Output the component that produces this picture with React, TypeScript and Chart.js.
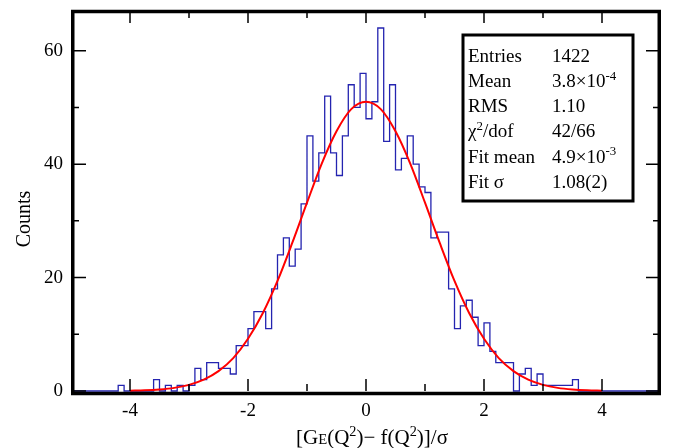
import { useEffect, useRef } from 'react';
import { Chart, registerables } from 'chart.js';

Chart.register(...registerables);

// Histogram: 100 bins of width 0.1 from -5 to 5
const binLow = -5;
const binHigh = 5;
const binWidth = 0.1;
const binCounts = [
  0, 0, 0, 0, 0, 0, 0, 0, 1, 0,
  0, 0, 0, 0, 2, 0, 1, 0, 1, 0,
  1, 4, 2, 5, 5, 4, 4, 3, 8, 8,
  11, 14, 14, 11, 18, 24, 27, 22, 25, 33,
  45, 37, 42, 52, 42, 38, 45, 54, 50, 56,
  48, 51, 64, 44, 54, 39, 41, 45, 40, 36,
  35, 27, 28, 28, 18, 11, 15, 16, 13, 8,
  12, 7, 5, 5, 5, 0, 3, 4, 1, 3,
  1, 1, 1, 1, 1, 2, 0, 0, 0, 0,
  0, 0, 0, 0, 0, 0, 0, 0, 0, 0,
];

// Gaussian fit curve
const fitX = [
  -4, -3.75, -3.5, -3.25, -3, -2.75, -2.5, -2.25, -2, -1.75, -1.5, -1.25, -1, -0.75, -0.5, -0.25,
  0, 0.25, 0.5, 0.75, 1, 1.25, 1.5, 1.75, 2, 2.25, 2.5, 2.75, 3, 3.25, 3.5, 3.75, 4,
];
const fitY = [
  0.05, 0.12, 0.27, 0.55, 1.08, 2.0, 3.5, 5.8, 9.2, 13.7, 19.4, 26.1, 33.2, 40.1, 45.8, 49.7,
  51.0, 49.7, 45.8, 40.1, 33.2, 26.1, 19.4, 13.7, 9.2, 5.8, 3.5, 2.0, 1.08, 0.55, 0.27, 0.12, 0.05,
];

const xTickLabels = [-4, -2, 0, 2, 4];
const xMinorTicks = [-3, -1, 1, 3];
const yTickLabels = [0, 20, 40, 60];
const yMinorTicks = [10, 30, 50];
const yMax = 67;

const statsLabels = ['Entries', 'Mean', 'RMS', 'χ²/dof', 'Fit mean', 'Fit σ'];
const statsValues = ['1422', '3.8×10^-4', '1.10', '42/66', '4.9×10^-3', '1.08(2)'];

const SERIF = '"Liberation Serif", "Times New Roman", serif';

type Seg = { t: string; size: number; dy: number };

function drawRich(ctx: CanvasRenderingContext2D, x: number, y: number, segs: Seg[], align: 'left' | 'center') {
  let total = 0;
  for (const s of segs) {
    ctx.font = `${s.size}px ${SERIF}`;
    total += ctx.measureText(s.t).width;
  }
  let cx = align === 'center' ? x - total / 2 : x;
  ctx.textAlign = 'left';
  ctx.textBaseline = 'alphabetic';
  for (const s of segs) {
    ctx.font = `${s.size}px ${SERIF}`;
    ctx.fillText(s.t, cx, y + s.dy);
    cx += ctx.measureText(s.t).width;
  }
}

function parseSup(str: string, size: number): Seg[] {
  const segs: Seg[] = [];
  if (str.includes('^')) {
    const [base, sup] = str.split('^');
    segs.push({ t: base, size, dy: 0 });
    segs.push({ t: sup, size: size * 0.68, dy: -size * 0.38 });
    return segs;
  }
  if (str.includes('²')) {
    const [a, b] = str.split('²');
    segs.push({ t: a, size, dy: 0 });
    segs.push({ t: '2', size: size * 0.68, dy: -size * 0.38 });
    segs.push({ t: b, size, dy: 0 });
    return segs;
  }
  return [{ t: str, size, dy: 0 }];
}

const decorPlugin = {
  id: 'decor',
  afterDraw(chart: any) {
    const ctx: CanvasRenderingContext2D = chart.ctx;
    const { left, right, top, bottom } = chart.chartArea;
    const xs = chart.scales.x;
    const ys = chart.scales.y;
    ctx.save();
    ctx.strokeStyle = '#000';
    ctx.lineWidth = 1.5;
    ctx.beginPath();
    const xTick = (v: number, len: number) => {
      const px = xs.getPixelForValue(v);
      ctx.moveTo(px, bottom);
      ctx.lineTo(px, bottom - len);
      ctx.moveTo(px, top);
      ctx.lineTo(px, top + len);
    };
    const yTick = (v: number, len: number) => {
      const py = ys.getPixelForValue(v);
      ctx.moveTo(left, py);
      ctx.lineTo(left + len, py);
      ctx.moveTo(right, py);
      ctx.lineTo(right - len, py);
    };
    xTickLabels.forEach((v) => xTick(v, 12));
    xMinorTicks.forEach((v) => xTick(v, 7));
    yTickLabels.forEach((v) => yTick(v, 15));
    yMinorTicks.forEach((v) => yTick(v, 8));
    ctx.stroke();

    // frame
    ctx.lineWidth = 3.5;
    ctx.strokeRect(left + 1.75, top + 0.5, right - left - 3.5, bottom + 2 - top);

    // stats box
    const bx = 463, by = 35, bw = 170, bh = 166;
    ctx.fillStyle = '#fff';
    ctx.fillRect(bx, by, bw, bh);
    ctx.lineWidth = 3;
    ctx.strokeRect(bx, by, bw, bh);
    ctx.fillStyle = '#000';
    const fs = 19;
    statsLabels.forEach((lab, i) => {
      const yb = 61.5 + i * 25.3;
      drawRich(ctx, 468, yb, parseSup(lab, fs), 'left');
      drawRich(ctx, 552, yb, parseSup(statsValues[i], fs), 'left');
    });

    // y axis title
    ctx.save();
    ctx.translate(25, 219);
    ctx.rotate(-Math.PI / 2);
    ctx.font = `20px ${SERIF}`;
    ctx.textAlign = 'center';
    ctx.textBaseline = 'middle';
    ctx.fillText('Counts', 0, 0);
    ctx.restore();

    // x axis title
    const ts = 21;
    const sub = ts * 0.7;
    const sup = ts * 0.68;
    drawRich(ctx, 372, 444, [
      { t: '[G', size: ts, dy: 0 },
      { t: 'E', size: sub, dy: 0 },
      { t: '(Q', size: ts, dy: 0 },
      { t: '2', size: sup, dy: -ts * 0.38 },
      { t: ')− f(Q', size: ts, dy: 0 },
      { t: '2', size: sup, dy: -ts * 0.38 },
      { t: ')]/σ', size: ts, dy: 0 },
    ], 'center');
    ctx.restore();
  },
};

export default function App() {
  const ref = useRef<HTMLCanvasElement>(null);
  useEffect(() => {
    if (!ref.current) return;
    const histData = binCounts.map((c, i) => ({ x: binLow + i * binWidth, y: c }));
    histData.push({ x: binHigh, y: binCounts[binCounts.length - 1] });
    const fitData = fitX.map((x, i) => ({ x, y: fitY[i] }));
    const chart = new Chart(ref.current, {
      type: 'line',
      data: {
        datasets: [
          {
            data: fitData,
            borderColor: '#ff0000',
            borderWidth: 2,
            pointRadius: 0,
            cubicInterpolationMode: 'monotone',
            fill: false,
            order: 0,
            clip: 4,
          } as any,
          {
            data: histData,
            borderColor: '#2424b0',
            borderWidth: 1.3,
            pointRadius: 0,
            stepped: 'before',
            fill: false,
            order: 1,
            clip: 4,
          } as any,
        ],
      },
      options: {
        animation: false,
        responsive: false,
        devicePixelRatio: 1,
        layout: { padding: { top: 11, right: 22, left: 0, bottom: 0 } },
        plugins: { legend: { display: false }, tooltip: { enabled: false } },
        scales: {
          x: {
            type: 'linear',
            min: binLow,
            max: binHigh,
            grid: { display: false, drawTicks: false },
            border: { display: false },
            ticks: {
              padding: 9,
              color: '#000',
              font: { family: SERIF, size: 19 },
              maxRotation: 0,
            },
            afterBuildTicks: (s: any) => {
              s.ticks = xTickLabels.map((v) => ({ value: v }));
            },
            afterFit: (s: any) => {
              s.height = 57;
              s.paddingLeft = 0;
              s.paddingRight = 0;
            },
          },
          y: {
            type: 'linear',
            min: 0,
            max: yMax,
            grid: { display: false, drawTicks: false },
            border: { display: false },
            ticks: {
              padding: 8,
              color: '#000',
              font: { family: SERIF, size: 19 },
            },
            afterBuildTicks: (s: any) => {
              s.ticks = yTickLabels.map((v) => ({ value: v }));
            },
            afterFit: (s: any) => {
              s.width = 71;
              s.paddingTop = 0;
              s.paddingBottom = 0;
            },
          },
        },
      } as any,
      plugins: [decorPlugin],
    });
    return () => chart.destroy();
  }, []);
  return (
    <div style={{ position: 'fixed', left: 0, top: 0, width: 683, height: 448, background: '#fff' }}>
      <canvas ref={ref} width={683} height={448} style={{ width: 683, height: 448, display: 'block' }} />
    </div>
  );
}
